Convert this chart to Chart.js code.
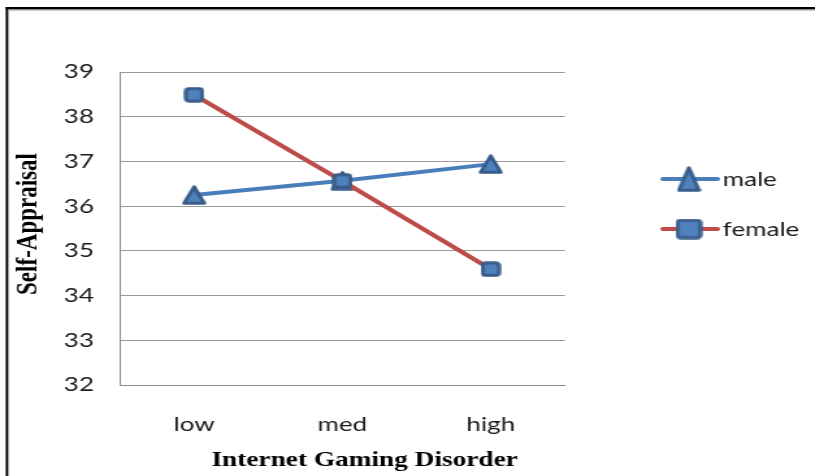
<!DOCTYPE html>
<html><head><meta charset="utf-8">
<script src="https://cdn.jsdelivr.net/npm/chart.js@4"></script>
<style>
html,body{margin:0;padding:0;background:#fff;overflow:hidden;width:815px;height:476px}
#wrap{position:absolute;left:0;top:0;width:627px;height:476px;transform:scaleX(1.2998);transform-origin:0 0}
</style></head><body>
<div id="wrap"><canvas id="c"></canvas></div>
<script>
const categories = ['low', 'med', 'high'];
const seriesNames = ['male', 'female'];
const maleValues = [36.25, 36.57, 36.94];
const femaleValues = [38.49, 36.56, 34.59];
const yTicks = [32, 33, 34, 35, 36, 37, 38, 39];
const xTitle = 'Internet Gaming Disorder';
const yTitle = 'Self-Appraisal';

const FILL = '#4F81BD', EDGE = '#385D8A';
const MALE_LINE = '#4A7EBB', FEMALE_LINE = '#BE4B48';

function markerCanvas(kind, w, h, lw) {
  const c = document.createElement('canvas');
  c.width = w; c.height = h;
  const g = c.getContext('2d');
  g.lineJoin = 'round';
  g.lineWidth = lw;
  g.fillStyle = FILL;
  g.strokeStyle = EDGE;
  const p = lw / 2 + 0.3;
  g.beginPath();
  if (kind === 'tri') {
    g.moveTo(w / 2, p);
    g.lineTo(w - p, h - p);
    g.lineTo(p, h - p);
    g.closePath();
  } else {
    const r = 2.5;
    g.roundRect(p, p, w - 2 * p, h - 2 * p, r);
  }
  g.fill();
  g.stroke();
  return c;
}

const triPlot = markerCanvas('tri', 19, 20, 3);
const sqPlot = markerCanvas('sq', 16, 16, 3);
const triLeg = markerCanvas('tri', 19, 26, 3);
const sqLeg = markerCanvas('sq', 21, 21, 3);

const legendItems = [
  {label: seriesNames[0], color: MALE_LINE, marker: triLeg, y: 179},
  {label: seriesNames[1], color: FEMALE_LINE, marker: sqLeg, y: 229}
];

const decor = {
  id: 'decor',
  beforeDraw(chart) {
    const ctx = chart.ctx;
    ctx.save();
    ctx.fillStyle = '#fff';
    ctx.fillRect(0, 0, chart.width, chart.height);
    // frame (top and left edges)
    ctx.fillStyle = '#000';
    ctx.fillRect(4.4, 7, chart.width, 2.5);
    ctx.fillRect(4.4, 7, 1.8, chart.height);
    ctx.fillStyle = '#9a9a9a';
    ctx.fillRect(6.2, 9.5, chart.width, 1);
    ctx.fillRect(6.2, 9.5, 0.8, chart.height);
    ctx.restore();
  },
  afterDraw(chart) {
    const ctx = chart.ctx;
    ctx.save();
    // axis titles
    ctx.fillStyle = '#000';
    ctx.font = 'bold 21px "Liberation Serif"';
    ctx.textAlign = 'center';
    ctx.textBaseline = 'alphabetic';
    ctx.fillText(xTitle, 280.5, 466);
    ctx.save();
    ctx.translate(28, 224);
    ctx.rotate(-Math.PI / 2);
    ctx.font = 'bold 23px "Liberation Serif"';
    ctx.fillText(yTitle, 0, 0);
    ctx.restore();
    // legend
    legendItems.forEach(it => {
      ctx.strokeStyle = it.color;
      ctx.lineWidth = 4;
      ctx.lineCap = 'round';
      ctx.beginPath();
      ctx.moveTo(510, it.y);
      ctx.lineTo(552, it.y);
      ctx.stroke();
      ctx.drawImage(it.marker, 530 - it.marker.width / 2, it.y - it.marker.height / 2);
      ctx.fillStyle = '#1a1a1a';
      ctx.font = '20px Lato';
      ctx.textAlign = 'left';
      ctx.fillText(it.label, 556, it.y + 7);
    });
    ctx.restore();
  }
};

new Chart(document.getElementById('c'), {
  type: 'line',
  data: {
    labels: categories,
    datasets: [
      {label: seriesNames[0], data: maleValues, borderColor: MALE_LINE, borderWidth: 4,
       pointStyle: triPlot, tension: 0, order: 1},
      {label: seriesNames[1], data: femaleValues, borderColor: FEMALE_LINE, borderWidth: 4,
       pointStyle: sqPlot, tension: 0, order: 0}
    ]
  },
  options: {
    responsive: true,
    maintainAspectRatio: false,
    animation: false,
    events: [],
    layout: {padding: {top: 72, right: 192.4, bottom: 0, left: 0}},
    plugins: {legend: {display: false}, tooltip: {enabled: false}},
    scales: {
      x: {
        type: 'category',
        offset: true,
        grid: {display: false, drawTicks: false},
        border: {display: true, color: '#8c8c8c', width: 1},
        ticks: {font: {family: 'Lato', size: 20}, color: '#1a1a1a', padding: 28, maxRotation: 0},
        afterFit(s) { s.height = 91; }
      },
      y: {
        min: 32, max: 39,
        grid: {color: '#9a9a9a', lineWidth: 1, drawTicks: false},
        border: {display: true, color: '#8c8c8c', width: 1},
        ticks: {font: {family: 'Lato', size: 20}, color: '#1a1a1a', padding: 20, stepSize: 1},
        afterBuildTicks(s) { s.ticks = yTicks.map(v => ({value: v})); },
        afterFit(s) { s.width = 92.3; }
      }
    }
  },
  plugins: [decor]
});
</script>
</body></html>
